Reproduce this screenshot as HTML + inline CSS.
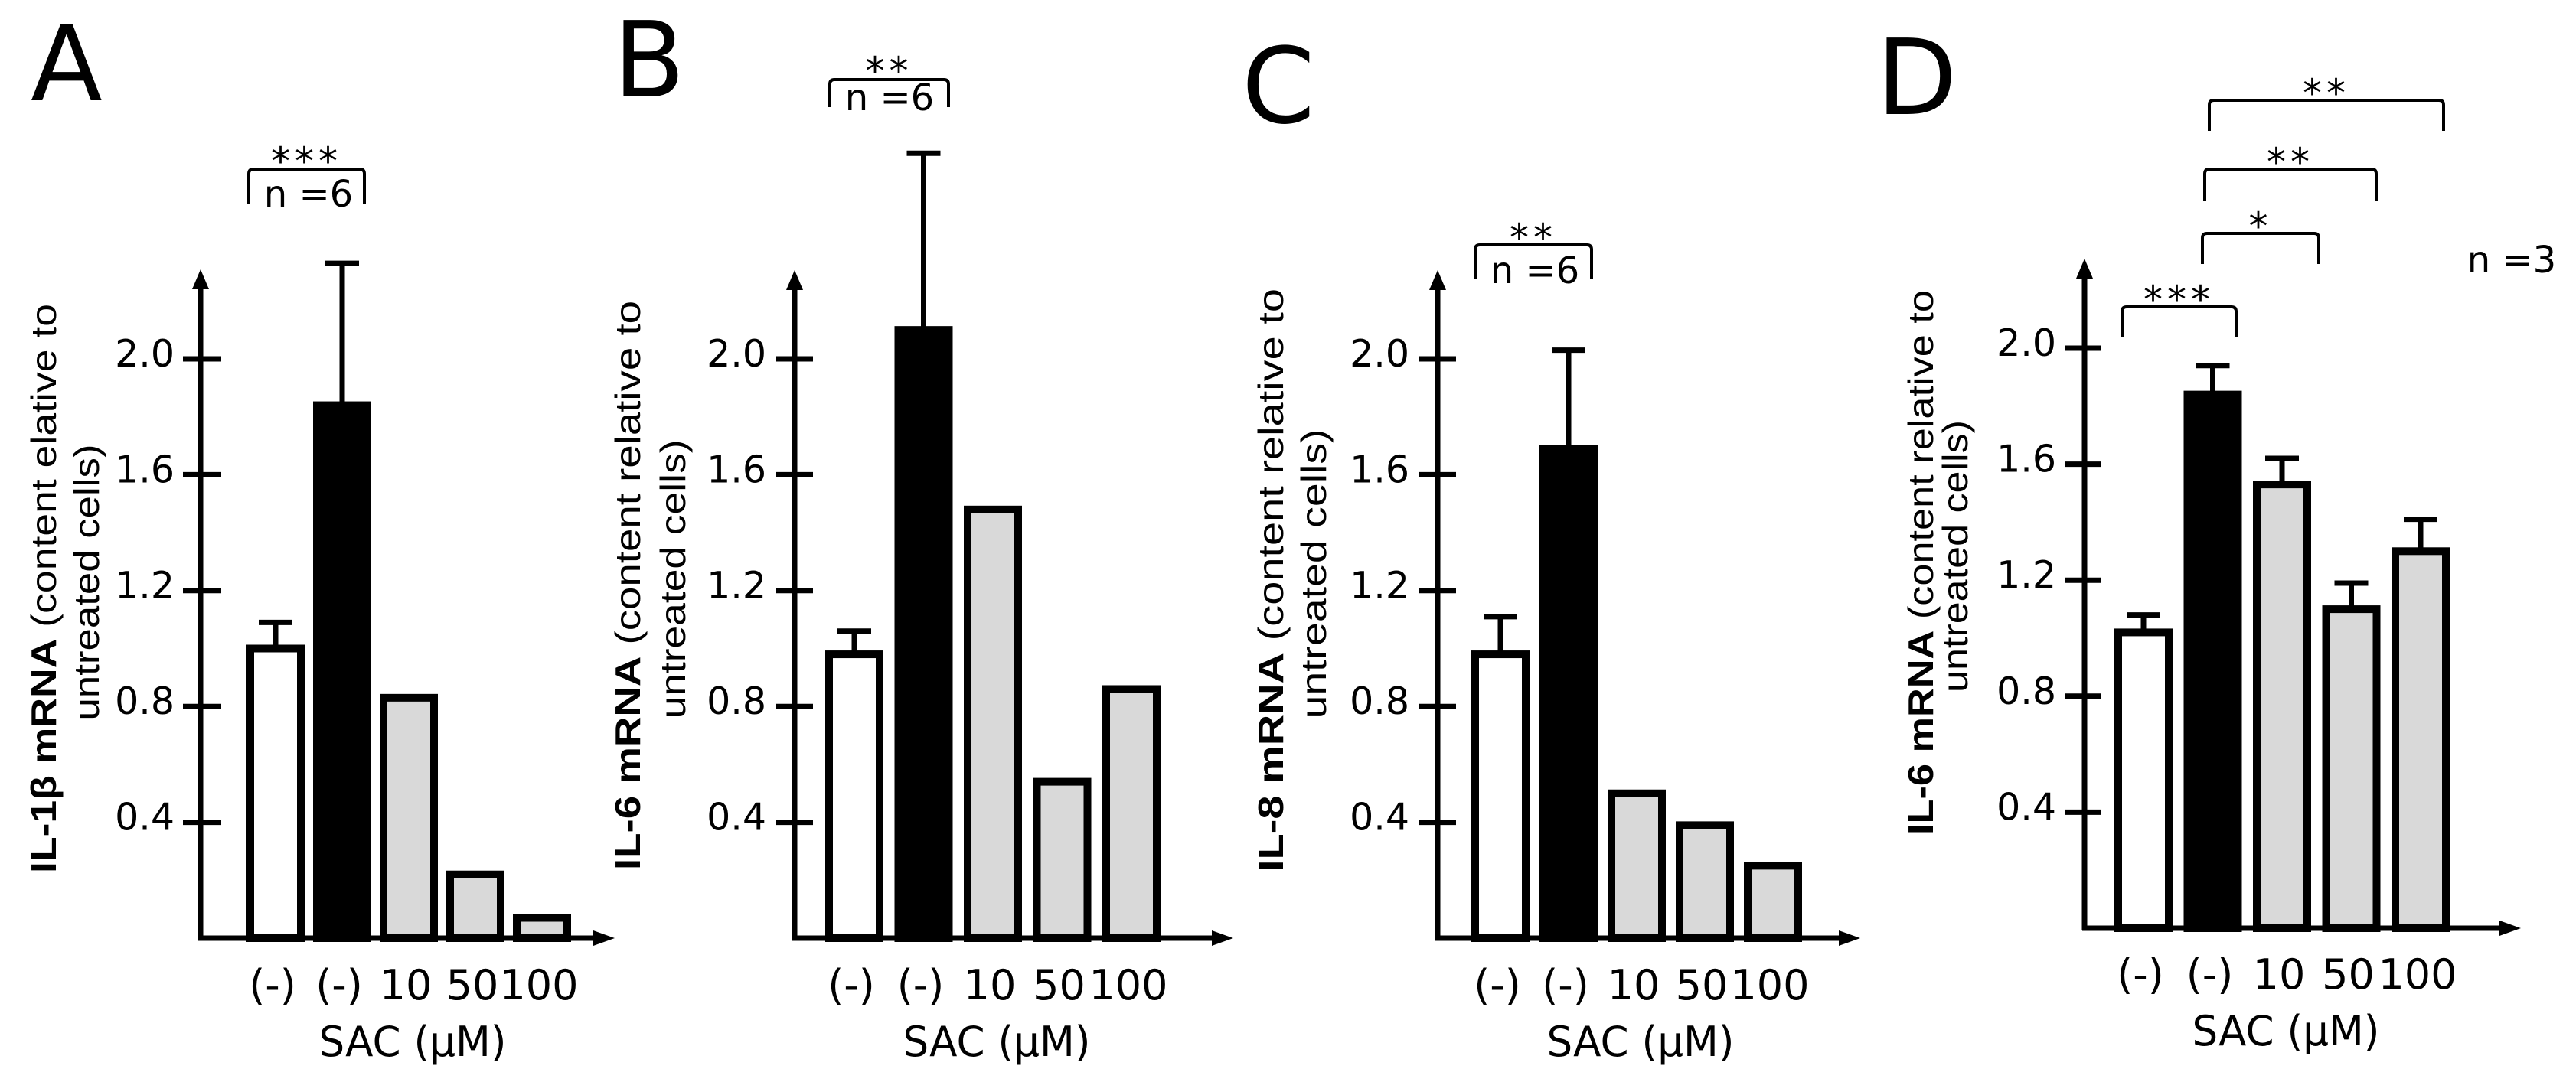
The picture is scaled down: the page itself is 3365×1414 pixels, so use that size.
<!DOCTYPE html>
<html><head><meta charset="utf-8"><style>
html,body{margin:0;padding:0;background:#fff;}
svg{display:block;}
</style></head><body>
<svg id="fig" width="3365" height="1414" viewBox="0 0 3365 1414" xmlns="http://www.w3.org/2000/svg" font-family="'DejaVu Sans', 'Liberation Sans', sans-serif"></svg>
<script>
const categories = ["(-)", "(-)", "10", "50", "100"];
const tickLabels = ["0.4", "0.8", "1.2", "1.6", "2.0"];
const tickValues = [0.4, 0.8, 1.2, 1.6, 2.0];
const valuesA = [1.0, 1.84, 0.83, 0.22, 0.07];
const errorsA = [1.09, 2.33, null, null, null];
const valuesB = [0.98, 2.10, 1.48, 0.54, 0.86];
const errorsB = [1.06, 2.71, null, null, null];
const valuesC = [0.98, 1.69, 0.50, 0.39, 0.25];
const errorsC = [1.11, 2.03, null, null, null];
const valuesD = [1.02, 1.84, 1.53, 1.10, 1.30];
const errorsD = [1.08, 1.94, 1.62, 1.19, 1.41];

const NS = "http://www.w3.org/2000/svg";
const svg = document.getElementById('fig');
const fills = ["#ffffff", "#000000", "#d9d9d9", "#d9d9d9", "#d9d9d9"];

function mk(tag, attrs, parent) {
  const e = document.createElementNS(NS, tag);
  for (const k in attrs) e.setAttribute(k, attrs[k]);
  (parent || svg).appendChild(e);
  return e;
}

const panels = [
  {id:'a', letter:'A', lx:40, ly:131, axisX:262, base:1226, unit:378.5, top:352, xEnd:803, tickL:239, tickR:289, labR:228,
   c0:360, step:87, vals:valuesA, errs:errorsA, xlabY:1306, sacY:1380,
   y1x:56, y2x:112, ycy:769, len1:744, len2:361, gene:"IL-1β mRNA", rest:" (content elative to",
   brackets:[{x1:325,x2:476,y:221,leg:266,stars:"***",sy:206}], nlabel:{x:403,y:270,t:"n =6"}},
  {id:'b', letter:'B', lx:801, ly:126, axisX:1038, base:1226, unit:378.5, top:353, xEnd:1611, tickL:1014, tickR:1062, labR:1001,
   c0:1116, step:90.5, vals:valuesB, errs:errorsB, xlabY:1306, sacY:1380,
   y1x:819, y2x:878, ycy:765, len1:744, len2:365, gene:"IL-6 mRNA", rest:" (content relative to",
   brackets:[{x1:1084,x2:1239,y:104,leg:140,stars:"**",sy:88}], nlabel:{x:1162,y:144,t:"n =6"}},
  {id:'c', letter:'C', lx:1622, ly:160, axisX:1878, base:1226, unit:378.5, top:353, xEnd:2430, tickL:1854, tickR:1902, labR:1841,
   c0:1960, step:89, vals:valuesC, errs:errorsC, xlabY:1306, sacY:1380,
   y1x:1659, y2x:1715, ycy:758, len1:762, len2:379, gene:"IL-8 mRNA", rest:" (content relative to",
   brackets:[{x1:1927,x2:2079,y:320,leg:365,stars:"**",sy:306}], nlabel:{x:2005,y:370,t:"n =6"}},
  {id:'d', letter:'D', lx:2451, ly:149, axisX:2723, base:1213, unit:379, top:338, xEnd:3293, tickL:2697, tickR:2745, labR:2686,
   c0:2800, step:90.5, vals:valuesD, errs:errorsD, xlabY:1292, sacY:1366,
   y1x:2508, y2x:2553, ycy:735, len1:712, len2:356, gene:"IL-6 mRNA", rest:" (content relative to",
   brackets:[{x1:2772,x2:2921,y:401,leg:440,stars:"***",sy:387},
             {x1:2877,x2:3029,y:305,leg:345,stars:"*",sy:291},
             {x1:2880,x2:3104,y:221,leg:263,stars:"**",sy:207},
             {x1:2886,x2:3192,y:131,leg:171,stars:"**",sy:117}], nlabel:{x:3281,y:356,t:"n =3"}}
];

panels.forEach(p => {
  const g = mk('g', {});
  
  
  const yS = v => p.base - v * p.unit;
  const xS = i => p.c0 + i * p.step;

  const L = mk('text', {x:p.lx, y:p.ly, 'font-size':137, fill:'#000'}, g);
  L.textContent = p.letter;
  
  

  p.vals.forEach((v, i) => {
    const cx = xS(i), w = 66;
    const r = mk('rect', {x:cx - w/2, y:yS(v), width:w, height:p.base - yS(v), fill:fills[i], stroke:'#000', 'stroke-width':10}, g);
    
    
    const e = p.errs[i];
    if (e !== null && e !== undefined) {
      const eg = mk('g', {stroke:'#000', 'stroke-width':7}, g);
      
      
      mk('line', {x1:cx, x2:cx, y1:yS(v), y2:yS(e)}, eg);
      mk('line', {x1:cx - 22, x2:cx + 22, y1:yS(e), y2:yS(e)}, eg);
    }
    const t = mk('text', {x:cx - 4, y:p.xlabY, 'font-size':54, 'text-anchor':'middle'}, g);
    t.textContent = categories[i];
    
    
  });

  const ax = mk('g', {stroke:'#000', 'stroke-width':7, fill:'none'}, g);
  
  
  mk('line', {x1:p.axisX, x2:p.axisX, y1:p.base + 3, y2:p.top + 20}, ax);
  mk('line', {x1:p.axisX - 3, x2:p.xEnd - 22, y1:p.base, y2:p.base}, ax);
  mk('polygon', {points:`${p.axisX-11},${p.top+26} ${p.axisX+11},${p.top+26} ${p.axisX},${p.top}`, fill:'#000', stroke:'none'}, g);
  mk('polygon', {points:`${p.xEnd-28},${p.base-10} ${p.xEnd-28},${p.base+10} ${p.xEnd},${p.base}`, fill:'#000', stroke:'none'}, g);
  tickValues.forEach((tv, k) => {
    const y = yS(tv);
    mk('line', {x1:p.tickL, x2:p.tickR, y1:y, y2:y}, ax);
    const t = mk('text', {x:p.labR, y:y + 10, 'font-size':49, 'text-anchor':'end'}, g);
    t.textContent = tickLabels[k];
    
    
  });

  const sac = mk('text', {x:(xS(0)+xS(4))/2 + 5, y:p.sacY, 'font-size':54, 'text-anchor':'middle', textLength:245, lengthAdjust:'spacingAndGlyphs'}, g);
  sac.textContent = 'SAC (μM)';
  
  

  const yl = mk('text', {transform:`translate(${p.y1x + 17},${p.ycy}) rotate(-90)`, 'font-size':46, 'text-anchor':'middle', 'font-family':"'Liberation Sans', sans-serif", textLength:p.len1, lengthAdjust:'spacingAndGlyphs'}, g);
  
  
  const b = mk('tspan', {'font-weight':'bold'}, yl); b.textContent = p.gene;
  const r2 = mk('tspan', {}, yl); r2.textContent = p.rest;
  const yl2 = mk('text', {transform:`translate(${p.y2x + 17},${p.ycy - 8}) rotate(-90)`, 'font-size':46, 'text-anchor':'middle', 'font-family':"'Liberation Sans', sans-serif", textLength:p.len2, lengthAdjust:'spacingAndGlyphs'}, g);
  yl2.textContent = 'untreated cells)';
  
  

  p.brackets.forEach(br => {
    const pg = mk('path', {d:`M${br.x1},${br.leg} L${br.x1},${br.y+6} Q${br.x1},${br.y} ${br.x1+6},${br.y} L${br.x2-6},${br.y} Q${br.x2},${br.y} ${br.x2},${br.y+6} L${br.x2},${br.leg}`, fill:'none', stroke:'#000', 'stroke-width':4}, g);
    
    
    const s = mk('text', {x:(br.x1+br.x2)/2, y:br.sy + 22, 'font-size':50, 'text-anchor':'middle', 'letter-spacing':6}, g);
    s.textContent = br.stars;
    
    
  });
  const n = mk('text', {x:p.nlabel.x, y:p.nlabel.y, 'font-size':48, 'text-anchor':'middle'}, g);
  n.textContent = p.nlabel.t;
  
  
});
</script>
</body></html>
